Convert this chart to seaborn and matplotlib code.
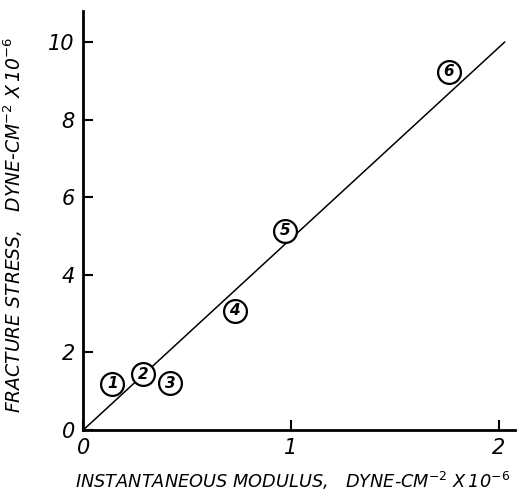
import matplotlib
matplotlib.use("Agg")
import matplotlib.pyplot as plt
import seaborn as sns
import pandas as pd

labels = ["1", "2", "3", "4", "5", "6"]
modulus = [0.14, 0.29, 0.42, 0.73, 0.97, 1.76]
stress = [1.19, 1.44, 1.21, 3.07, 5.13, 9.23]
fit_x = [0.0, 2.03]
fit_y = [0.0, 10.0]
xticks = [0, 1, 2]
yticks = [0, 2, 4, 6, 8, 10]

sns.set_theme(style="ticks")
plt.rcParams['font.family'] = ['DejaVu Sans']
plt.rcParams['text.color'] = 'black'
plt.rcParams['axes.labelcolor'] = 'black'

df = pd.DataFrame({"x": modulus, "y": stress, "label": labels})
fit = pd.DataFrame({"x": fit_x, "y": fit_y})

fig = plt.figure(figsize=(5.30, 4.96), dpi=100)
ax = fig.add_axes([0.157, 0.133, 0.815, 0.845])

sns.lineplot(data=fit, x="x", y="y", ax=ax, color="black", linewidth=1.1)
sns.scatterplot(data=df, x="x", y="y", ax=ax, s=270, facecolor="white",
                edgecolor="black", linewidth=1.6, zorder=3)
for _, r in df.iterrows():
    ax.text(r.x, r.y, r.label, ha="center", va="center", fontsize=11,
            style="italic", fontweight="semibold", color="black", zorder=4)

ax.set_xlim(0, 2.08)
ax.set_ylim(0, 10.8)
ax.set_xticks(xticks)
ax.set_yticks(yticks)
ax.set_xticklabels([str(t) for t in xticks], style="italic", fontsize=15)
ax.set_yticklabels([str(t) for t in yticks], style="italic", fontsize=15)
ax.tick_params(direction="in", length=7, width=1.5, colors="black", pad=6)
sns.despine(ax=ax)
for s in ["left", "bottom"]:
    ax.spines[s].set_linewidth(2)
    ax.spines[s].set_color("black")

ax.set_xlabel("INSTANTANEOUS MODULUS,   DYNE-CM$^{-2}$ X$\\,$10$^{-6}$",
              style="italic", fontsize=12.8)
ax.xaxis.set_label_coords(0.485, -0.095)
ax.set_ylabel("FRACTURE STRESS,   DYNE-CM$^{-2}$ X$\\,$10$^{-6}$",
              style="italic", fontsize=13.5)
ax.yaxis.set_label_coords(-0.135, 0.49)

fig.savefig("out.png", dpi=100)
